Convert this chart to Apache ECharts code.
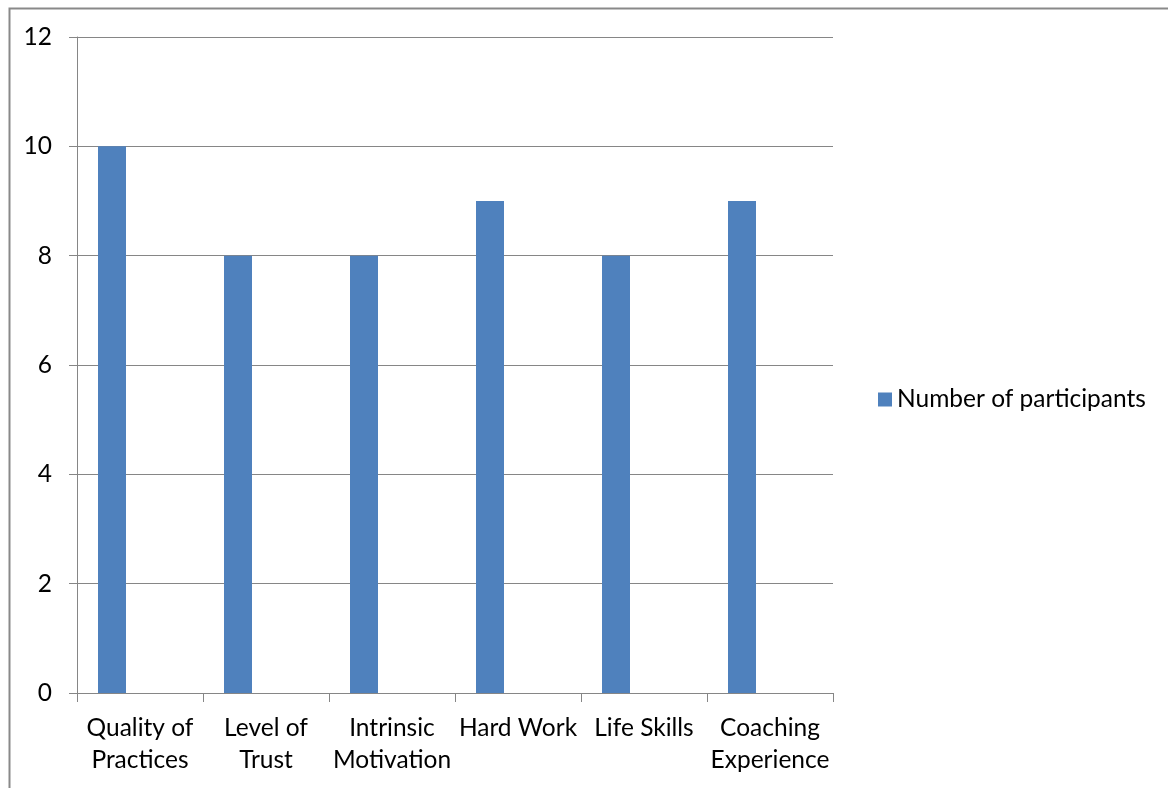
<!DOCTYPE html>
<html>
<head>
<meta charset="utf-8">
<script src="https://cdn.jsdelivr.net/npm/echarts@6/dist/echarts.min.js"></script>
<style>html,body{margin:0;padding:0;background:#fff}#c{width:1168px;height:788px}</style>
</head>
<body>
<div id="c"></div>
<script>
const categories = ['Quality of\nPractices', 'Level of\nTrust', 'Intrinsic\nMotivation', 'Hard Work', 'Life Skills', 'Coaching\nExperience'];
const participants = [10, 8, 8, 9, 8, 9];
const yTicks = [0, 2, 4, 6, 8, 10, 12];
const seriesName = 'Number of participants';

const chart = echarts.init(document.getElementById('c'));
const font = 'Lato, Carlito, "Liberation Sans", sans-serif';
const fs = 24.5;
chart.setOption({
  animation: false,
  textStyle: { fontFamily: font },
  graphic: [{
    type: 'rect', left: 7, top: 6, silent: true,
    shape: { width: 1200, height: 820 },
    style: { fill: 'none', stroke: '#898989', lineWidth: 2 }
  }],
  grid: { left: 77, right: 335, top: 37, bottom: 95 },
  legend: {
    data: [seriesName],
    left: 873, top: 382,
    itemWidth: 14, itemHeight: 14, itemGap: 8,
    icon: 'rect',
    textStyle: { fontSize: fs, color: '#000', fontFamily: font }
  },
  xAxis: {
    type: 'category',
    data: categories,
    boundaryGap: true,
    axisLine: { lineStyle: { color: '#868686', width: 1 } },
    axisTick: { show: true, length: 9, lineStyle: { color: '#868686' }, alignWithLabel: false },
    axisLabel: { fontSize: fs, color: '#000', lineHeight: 32, margin: 19, interval: 0, fontFamily: font }
  },
  yAxis: {
    type: 'value',
    min: yTicks[0], max: yTicks[yTicks.length - 1], interval: 2,
    axisLine: { show: true, lineStyle: { color: '#868686', width: 1 } },
    axisTick: { show: true, length: 8, lineStyle: { color: '#868686' } },
    splitLine: { lineStyle: { color: '#868686', width: 1 } },
    axisLabel: { fontSize: fs, color: '#000', margin: 25, fontFamily: font }
  },
  series: [
    { name: seriesName, type: 'bar', data: participants, barWidth: 28, barGap: '100%',
      itemStyle: { color: '#4F81BD' } },
    { name: '_empty', type: 'bar', data: participants.map(() => null), barWidth: 28 }
  ]
});
</script>
</body>
</html>
